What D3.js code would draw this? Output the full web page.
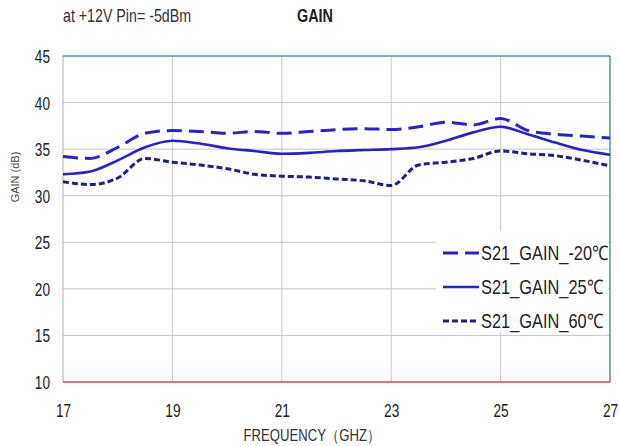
<!DOCTYPE html>
<html><head><meta charset="utf-8">
<script src="https://cdn.jsdelivr.net/npm/d3@7"></script>
<style>body{margin:0;background:#fff}svg{display:block}</style>
</head><body>
<svg id="c" width="619" height="446"></svg>
<script>
const freq = [17,17.5,18,18.5,19,19.5,20,20.5,21,21.5,22,22.5,23,23.5,24,24.5,25,25.5,26,26.5,27];
const gainM20 = [34.2,34.0,35.2,36.7,37.0,36.9,36.7,36.9,36.7,36.9,37.1,37.2,37.1,37.4,37.9,37.6,38.3,37.0,36.6,36.4,36.2];
const gain25  = [32.3,32.6,33.8,35.2,35.9,35.6,35.1,34.8,34.5,34.6,34.8,34.9,35.0,35.2,35.9,36.8,37.4,36.6,35.7,34.9,34.4];
const gain60  = [31.5,31.2,31.9,34.0,33.6,33.3,32.9,32.3,32.1,32.0,31.8,31.6,31.1,33.3,33.6,34.0,34.8,34.5,34.3,33.8,33.2];
const seriesNames = ["S21_GAIN_-20\u2103","S21_GAIN_25\u2103","S21_GAIN_60\u2103"];
const xTicks = [17,19,21,23,25,27];
const yTicks = [10,15,20,25,30,35,40,45];

const svg = d3.select("#c");
const L=63,R=610,T=56,B=382;
const x = d3.scaleLinear().domain([17,27]).range([L,R]);
const y = d3.scaleLinear().domain([10,45]).range([B,T]);
const font = "'Liberation Sans',Arial,sans-serif";

function txt(px,py,str,size,sx,anchor,weight,fill){
  return svg.append("text").attr("transform",`translate(${px},${py}) scale(${sx},1)`)
    .attr("text-anchor",anchor||"start").attr("font-family",font).attr("font-size",size)
    .attr("font-weight",weight||"normal").attr("fill",fill||"#222").text(str);
}

// grid
svg.append("g").selectAll("line").data(yTicks.slice(1,-1)).join("line")
  .attr("x1",L).attr("x2",R).attr("y1",d=>y(d)).attr("y2",d=>y(d))
  .attr("stroke","#c8c8c8").attr("stroke-width",1);
svg.append("g").selectAll("line").data(xTicks.slice(1,-1)).join("line")
  .attr("y1",T).attr("y2",B).attr("x1",d=>x(d)).attr("x2",d=>x(d))
  .attr("stroke","#c8c8c8").attr("stroke-width",1);

// frame
svg.append("line").attr("x1",L).attr("x2",L).attr("y1",T).attr("y2",B).attr("stroke","#b0b0b0");
svg.append("line").attr("x1",L).attr("x2",R).attr("y1",T).attr("y2",T).attr("stroke","#4a9a98").attr("stroke-width",1.5);
svg.append("line").attr("x1",R).attr("x2",R).attr("y1",T).attr("y2",B).attr("stroke","#4a9a98").attr("stroke-width",1.5);
svg.append("line").attr("x1",L).attr("x2",R).attr("y1",B).attr("y2",B).attr("stroke","#d04848").attr("stroke-width",1.5);

// axes
const ya = svg.append("g").attr("transform",`translate(${L},0)`)
  .call(d3.axisLeft(y).tickValues(yTicks).tickSize(0));
ya.select(".domain").remove();
ya.selectAll("text").attr("x",0).attr("dy","0.36em")
  .attr("transform","translate(-13,0) scale(0.76,1)")
  .attr("font-family",font).attr("font-size",18).attr("fill","#222");
const xa = svg.append("g").attr("transform",`translate(0,${B})`)
  .call(d3.axisBottom(x).tickValues(xTicks).tickSize(0));
xa.select(".domain").remove();
xa.selectAll("text").attr("y",0).attr("dy","0")
  .attr("transform","translate(0,35) scale(0.76,1)")
  .attr("font-family",font).attr("font-size",18).attr("fill","#222");

txt(312,441,"FREQUENCY\uFF08GHZ\uFF09",16,0.82,"middle","normal","#333");
svg.append("text").attr("transform","translate(19,177) rotate(-90)").attr("text-anchor","middle")
  .attr("font-family",font).attr("font-size",11).attr("fill","#444").text("GAIN (dB)");
txt(63,22,"at +12V Pin= -5dBm",18,0.79,"start","normal","#333");
txt(297,22,"GAIN",18,0.8,"start","bold","#222");

// lines
const styles = [
  {data:gainM20, color:"#2424c8", w:3, dash:"15,7"},
  {data:gain25,  color:"#2424c0", w:2.6, dash:null},
  {data:gain60,  color:"#1e1e8c", w:3, dash:"6,3"}
];
const line = d3.line().x((d,i)=>x(freq[i])).y(d=>y(d)).curve(d3.curveMonotoneX);
styles.forEach(s=>{
  svg.append("path").attr("d",line(s.data)).attr("fill","none")
    .attr("stroke",s.color).attr("stroke-width",s.w).attr("stroke-dasharray",s.dash);
});

// legend
svg.append("rect").attr("x",436).attr("y",231).attr("width",172).attr("height",101).attr("fill","#fff");
seriesNames.forEach((n,i)=>{
  const yy = 253 + i*34;
  svg.append("line").attr("x1",443).attr("x2",479).attr("y1",yy).attr("y2",yy)
    .attr("stroke",styles[i].color).attr("stroke-width",styles[i].w)
    .attr("stroke-dasharray",i==0?"15,7":(i==2?"6,3":null));
  txt(481,yy+7,n,20,0.82,"start","normal","#222");
});
</script>
</body></html>
